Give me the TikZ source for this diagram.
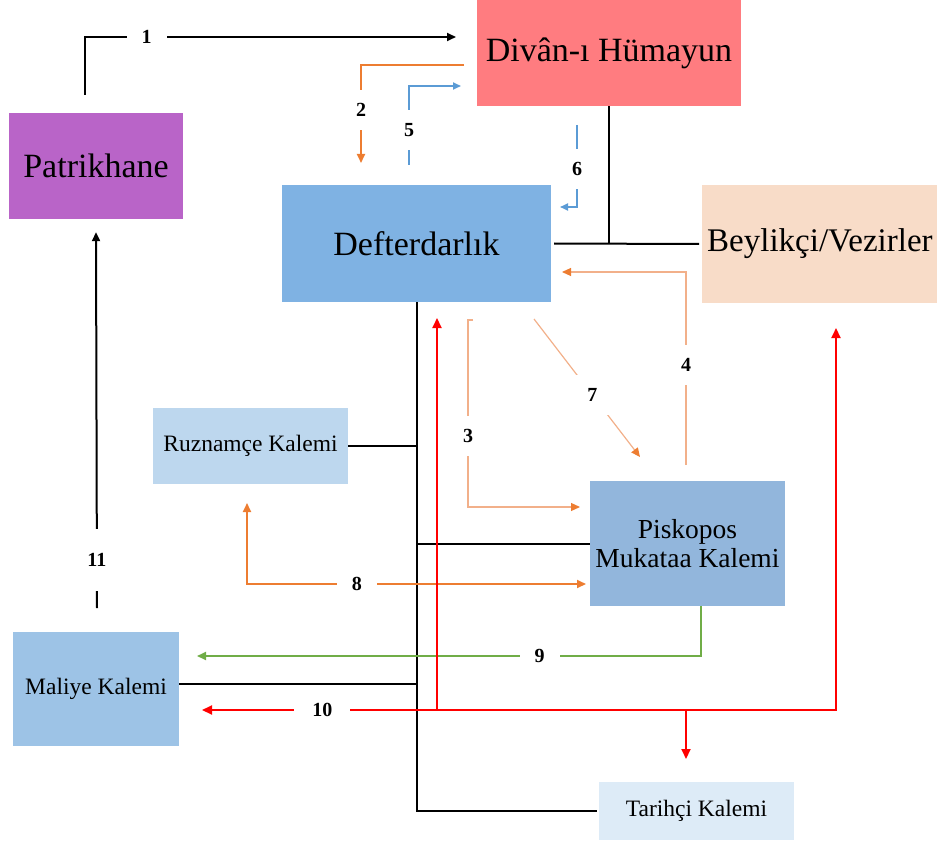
\documentclass[tikz,border=0pt]{standalone}
\usepackage{fontspec}
\setmainfont{Liberation Serif}
\usetikzlibrary{arrows.meta}
\definecolor{divanred}{HTML}{FF7C80}
\definecolor{patrikpurple}{HTML}{B964C8}
\definecolor{defterblue}{HTML}{7FB2E3}
\definecolor{beylikpeach}{HTML}{F8DCC8}
\definecolor{ruzblue}{HTML}{BDD7EE}
\definecolor{piskblue}{HTML}{92B6DC}
\definecolor{maliyeblue}{HTML}{9DC3E6}
\definecolor{tarihblue}{HTML}{DDEBF7}
\definecolor{flowOrange}{HTML}{ED7D31}
\definecolor{flowTan}{HTML}{F2B08A}
\definecolor{flowBlue}{HTML}{5B9BD5}
\definecolor{flowGreen}{HTML}{70AD47}
\definecolor{flowRed}{HTML}{FF0000}
\tikzset{%
    >={Triangle[length=9pt,width=8pt]},
    office/.style={draw=none, inner sep=0pt, text=black},
    bigtext/.style={font=\fontsize{34}{36}\selectfont},
    smalltext/.style={font=\fontsize{23.5}{26}\selectfont},
    num/.style={fill=white, text=black, inner sep=0pt, minimum width=40pt, minimum height=40pt, font=\fontsize{20}{22}\selectfont\bfseries},
    link/.style={line width=2pt, black},
    orangelink/.style={line width=2pt, flowOrange},
    thinlink/.style={line width=1.2pt, flowTan, -{Triangle[length=9pt,width=8pt,color=flowOrange]}},
    bluelink/.style={line width=1.8pt, flowBlue, -{Triangle[length=8pt,width=7pt]}},
    greenlink/.style={line width=2pt, flowGreen},
    redlink/.style={line width=2pt, flowRed}
}
\begin{document}
\begin{tikzpicture}[x=1pt,y=-1pt]
        \useasboundingbox (0,0) rectangle (937,845);

        \node[office, bigtext, fill=divanred, minimum width=264pt, minimum height=106pt] (divan) at (609,53) {Divân-ı Hümayun};
        \node[office, bigtext, fill=patrikpurple, minimum width=174pt, minimum height=106pt] (patrik) at (96,166) {Patrikhane};
        \node[office, bigtext, fill=defterblue, minimum width=269pt, minimum height=117pt] (defter) at (416.5,243.5) {Defterdarlık};
        \node[office, font=\fontsize{33}{35}\selectfont, fill=beylikpeach, minimum height=118pt, anchor=west, text width=240pt, inner xsep=5pt, align=left] (beylik) at (702,244) {Beylikçi/Vezirler};
        \node[office, smalltext, fill=ruzblue, minimum width=195pt, minimum height=76pt] (ruz) at (250.5,446) {Ruznamçe Kalemi};
        \node[office, font=\fontsize{27.5}{29}\selectfont, fill=piskblue, minimum width=195pt, minimum height=125pt, align=center] (pisk) at (687.5,543.5) {Piskopos\\Mukataa Kalemi};
        \node[office, smalltext, fill=maliyeblue, minimum width=166pt, minimum height=114pt] (mal) at (96,689) {Maliye Kalemi};
        \node[office, smalltext, fill=tarihblue, minimum width=195pt, minimum height=58pt] (tar) at (696.5,811) {Tarihçi Kalemi};

        \coordinate (a1) at ([xshift=-11pt,yshift=18pt]patrik.north);
        \coordinate (b1) at (456,37);
        \coordinate (a2) at (464,65);
        \coordinate (b2) at (361,163);
        \coordinate (a3) at (473,320);
        \coordinate (b3) at (580,507);
        \coordinate (a4) at (686,465);
        \coordinate (b4) at (562,272);
        \coordinate (a5) at (409,165);
        \coordinate (b5) at (461,86);
        \coordinate (a6) at (577,125);
        \coordinate (b6) at (560,207);
        \coordinate (a7) at (534,319);
        \coordinate (b7) at (640,457);
        \coordinate (a8) at (247,503);
        \coordinate (b8) at (586,584);
        \coordinate (b9) at (197,656);
        \coordinate (rleft) at (202,710);
        \coordinate (rup) at (437,318);
        \coordinate (rright) at (836,328);
        \coordinate (rdown) at (686,759);
        \coordinate (a11) at (97,608);

        \draw[link] (divan.south) -- (divan.south |- defter.east);
        \draw[link] ([xshift=3pt]defter.east) -- ([xshift=-3pt]beylik.west);
        \draw[link] (defter.south) |- ([xshift=-2pt]tar.west);
        \draw[link] (ruz.east) -- (ruz.east -| defter.south);
        \draw[link] (pisk.west -| defter.south) -- (pisk.west);
        \draw[link] ([yshift=5pt]mal.east) -- ([yshift=5pt]mal.east -| defter.south);

        \draw[link, ->] (a1) |- node[num, pos=0.583] {1} (b1);
        \draw[link, ->] (a11) -- node[num, pos=0.128, minimum height=62pt] {11} ([yshift=-13pt]patrik.south);

        \draw[orangelink, ->] (a2) -| node[num, pos=0.73] {2} (b2);
        \draw[bluelink] (a5) |- node[num, pos=0.22] {5} (b5);
        \draw[bluelink] (a6) |- node[num, pos=0.27] {6} (b6);

        \draw[thinlink] (a3) -- ++(-5,0) |- node[num, pos=0.31] {3} (b3);
        \draw[thinlink] (a4) |- node[num, pos=0.26] {4} (b4);
        \draw[thinlink] (a7) -- node[num, pos=0.55] {7} (b7);
        \draw[orangelink, <->] (a8) |- node[num, pos=0.662] {8} (b8);

        \draw[greenlink, ->] ([xshift=13.5pt]pisk.south) |- node[num, pos=0.66] {9} (b9);

        \draw[redlink, <->, >={Triangle[length=10pt,width=9pt]}] (rleft) -| node[num, pos=0.095, minimum width=56pt] {10} (rright);
        \draw[redlink, ->, >={Triangle[length=10pt,width=9pt]}] (rleft -| rup) -- (rup);
        \draw[redlink, ->, >={Triangle[length=10pt,width=9pt]}] (rleft -| rdown) -- (rdown);
\end{tikzpicture}
\end{document}
